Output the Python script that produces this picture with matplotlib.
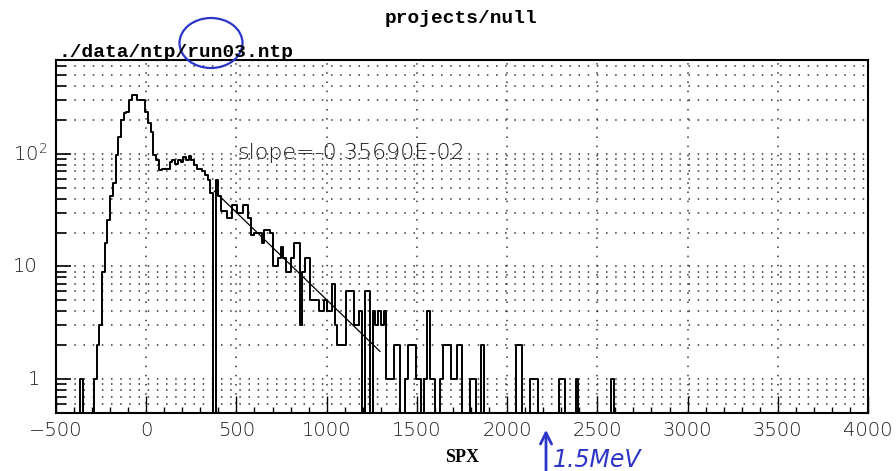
import numpy as np
import matplotlib
matplotlib.use("Agg")
import matplotlib.pyplot as plt
from matplotlib.patches import Ellipse, FancyArrowPatch
from matplotlib.transforms import blended_transform_factory

# histogram of SPX, 15-wide bins starting at -380
hist_start = -380
bin_width = 15
counts = [
    0, 1, 0, 0, 0, 0, 1, 2, 3, 9,                  # -380 .. -245
    16, 26, 42, 55, 98, 142, 200, 230, 235, 300,   # -230 .. -95
    330, 330, 300, 300, 300, 237, 187, 157, 98, 88,  # -80 .. 55
    72, 74, 74, 73, 85, 88, 81, 88, 85, 93,        # 70 .. 205
    88, 96, 88, 80, 74, 74, 71, 65, 59, 45,        # 220 .. 355
    0, 59, 42, 31, 31, 27, 27, 35, 35, 30,         # 370 .. 505
    30, 35, 35, 27, 19, 20, 20, 20, 16, 21,        # 520 .. 655
    21, 20, 10, 10, 12, 15, 12, 9, 9, 12,          # 670 .. 805
    16, 16, 3, 9, 12, 12, 5, 5, 5, 4,              # 820 .. 955
    4, 5, 4, 4, 7, 3, 2, 2, 2, 6,                  # 970 .. 1105
    6, 6, 3, 3, 4, 0, 6, 6, 0, 4,                  # 1120 .. 1255
    3, 4, 3, 4, 1, 1, 1, 2, 2, 0,                  # 1270 .. 1405
    0, 1, 2, 2, 2, 1, 1, 0, 1, 4,                  # 1420 .. 1555
    1, 1, 0, 0, 1, 2, 2, 2, 1, 1,                  # 1570 .. 1705
    2, 2, 0, 0, 0, 1, 1, 0, 0, 2,                  # 1720 .. 1855
    0, 0, 0, 0, 0, 0, 0, 0, 0, 0,                  # 1870 .. 2005
    0, 0, 2, 2, 0, 0, 0, 1, 1, 1,                  # 2020 .. 2155
    0, 0, 0, 0, 0, 0, 0, 0, 1, 1,                  # 2170 .. 2305
    0, 0, 0, 0, 1, 0, 0, 0, 0, 0,                  # 2320 .. 2455
    0, 0, 0, 0, 0, 0, 0, 1, 0,                     # 2470 .. 2590
]

# exponential fit exp(p0 + p1*x) over the fit range
fit_p0 = 5.19
fit_slope = -0.35690e-02
fit_range = (378, 1295)

x_ticks = [-500, 0, 500, 1000, 1500, 2000, 2500, 3000, 3500, 4000]
y_labels = [(1, "1"), (10, "10"), (100, "10$^2$")]

W, H = 896, 471


def fx(px):
    return px / W


def fy(py):
    return 1 - py / H


plt.rcParams['mathtext.default'] = 'regular'
fig = plt.figure(figsize=(W / 100, H / 100), dpi=100)
ax = fig.add_axes([fx(56), fy(413), fx(868) - fx(56), fy(60) - fy(413)])

edges = hist_start + bin_width * np.arange(len(counts) + 1)
ax.step(edges, np.append(counts, counts[-1]), where='post', color='black', lw=1.4)

xf = np.linspace(fit_range[0], fit_range[1], 20)
ax.plot(xf, np.exp(fit_p0 + fit_slope * xf), color='black', lw=0.9)

ax.set_yscale('log')
ax.set_xlim(-500, 4000)
ax.set_ylim(0.5, 680)

ax.set_xticks(x_ticks)
ax.set_xticklabels(["\u2212500" if t < 0 else str(t) for t in x_ticks])
ax.set_xticks(np.arange(-500, 4001, 100), minor=True)
ax.tick_params(axis='x', which='major', direction='in', length=12, width=1,
               pad=6, labelsize=14, labelcolor='#1a1a1a', top=False)
ax.tick_params(axis='x', which='minor', direction='in', length=4.5, width=1, top=False)
ax.tick_params(axis='y', which='major', direction='in', length=11, width=1.2,
               labelleft=False, right=False)
ax.tick_params(axis='y', which='minor', direction='in', length=7, width=1.2,
               labelleft=False, right=False)
for lab in ax.get_xticklabels():
    lab.set_fontweight('light')

ax.grid(True, which='major', axis='x', color='#333333', lw=1.1, linestyle=(0, (1, 5)))
ax.grid(True, which='both', axis='y', color='#333333', lw=1.1, linestyle=(0, (1, 5)))

for sp in ax.spines.values():
    sp.set_linewidth(1.5)

trans = blended_transform_factory(ax.transAxes, ax.transData)
for val, txt in y_labels:
    x0 = -0.0345 if val == 1 else -0.053
    ax.text(x0, val, txt, transform=trans, ha='left', va='center', fontsize=14,
            color='#1a1a1a', fontweight='light')

ax.text(0.2229, 0.7365, "slope=-0.35690E-02", transform=ax.transAxes,
        ha='left', va='center', fontsize=16, color='#1a1a1a', fontweight='light')

fig.text(fx(461), fy(23), "projects/null", ha='center', va='baseline',
         family='Liberation Mono', fontweight='bold', fontsize=14)
fig.text(fx(58), fy(57), "./data/ntp/run03.ntp", ha='left', va='baseline',
         family='Liberation Mono', fontweight='bold', fontsize=14)
fig.text(fx(462), fy(457), "SPX", ha='center', va='center',
         family='Liberation Serif', fontweight='bold', fontsize=13)

# handwritten marks
blue = '#2b35c8'
fig.add_artist(Ellipse((fx(211), fy(43)), 63 / W, 50 / H, transform=fig.transFigure,
                       fill=False, edgecolor=blue, lw=1.6))
fig.add_artist(FancyArrowPatch((fx(546), fy(475)), (fx(546), fy(427)),
                               transform=fig.transFigure, arrowstyle='->',
                               mutation_scale=20, color=blue, lw=2))
fig.text(fx(553), fy(467), "1.5MeV", ha='left', va='baseline', fontsize=17,
         style='italic', color=blue, fontweight='light')

fig.savefig('out.png', dpi=100)
